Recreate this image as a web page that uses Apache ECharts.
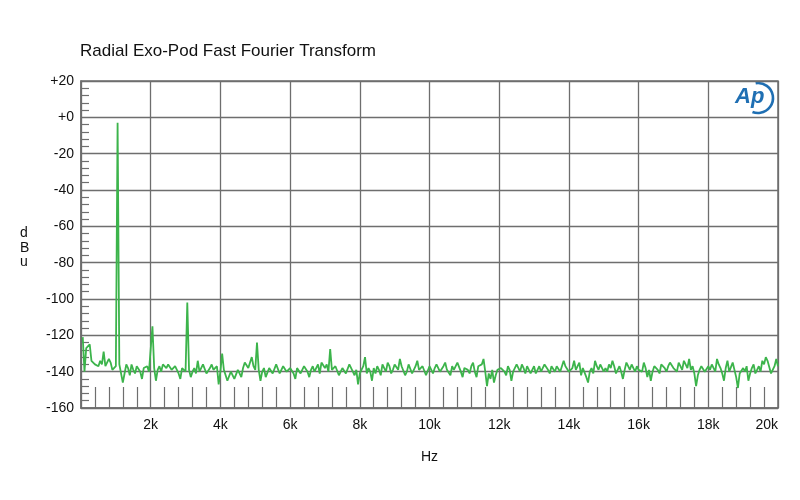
<!DOCTYPE html>
<html>
<head>
<meta charset="utf-8">
<title>Radial Exo-Pod FFT</title>
<script src="https://cdn.jsdelivr.net/npm/echarts@6/dist/echarts.min.js"></script>
<style>
  html, body { margin: 0; padding: 0; background: #fff; }
  #chart { width: 800px; height: 500px; }
</style>
</head>
<body>
<div id="chart"></div>
<script>
// FFT bins, 50 Hz apart: 50, 100, 150 ... 20000 Hz
const binStart = 50
const binStep = 50

// level in dBu for each bin, one row per kHz
const levels = [
  -121, -140, -127, -126, -125, -134, -133, -136, -135, -137, -134, -136, -129, -137, -136, -133, -135, -139, -138, -137,
  -3, -136, -137, -146, -141, -136, -138, -142, -136, -139, -141, -137, -138, -140, -144, -138, -139, -137, -140, -141,
  -115, -138, -145, -139, -137, -140, -136, -137, -138, -136, -137, -139, -140, -137, -138, -141, -144, -138, -139, -140,
  -102, -139, -143, -140, -138, -141, -134, -140, -139, -136, -137, -141, -141, -138, -136, -139, -140, -137, -147, -140,
  -130, -139, -142, -145, -144, -140, -141, -144, -143, -139, -141, -143, -138, -135, -136, -138, -135, -132, -137, -139,
  -124, -139, -145, -140, -138, -143, -142, -138, -137, -141, -140, -136, -137, -141, -139, -137, -138, -140, -139, -138,
  -139, -141, -144, -138, -137, -141, -140, -137, -138, -140, -143, -139, -137, -140, -139, -136, -141, -135, -135, -138,
  -136, -140, -127.5, -139, -140, -137, -137, -142, -141, -138, -138, -141, -140, -136, -137, -140, -142, -139, -147, -141,
  -140, -137, -132, -141, -138, -140, -145, -138, -141, -137, -139, -142, -136, -138, -140, -135, -137, -141, -139, -136,
  -136, -139, -133, -137, -138, -142, -140, -136, -137, -141, -139, -137, -134, -139, -140, -137, -138, -142, -141, -137,
  -137, -141, -138, -136, -136, -140, -139, -137, -135, -139, -140, -142, -137, -139, -138, -135, -136, -140, -143, -138,
  -137, -139, -141, -137, -135, -140, -143, -137, -138, -136, -133, -140, -148, -141, -144, -139, -146, -142, -139, -140,
  -138, -137, -140, -142, -137, -139, -145, -140, -139, -136, -137, -140, -136, -138, -141, -137, -138, -141, -140, -137,
  -141, -139, -137, -140, -139, -136, -135, -139, -141, -137, -138, -140, -137, -136, -140, -141, -134, -137, -136, -140,
  -140, -138, -134, -139, -137, -135, -142, -138, -139, -143, -146, -140, -138, -141, -134, -137, -139, -136, -137, -140,
  -138, -140, -136, -138, -134, -137, -141, -139, -137, -140, -144, -139, -135, -137, -139, -136, -138, -140, -137, -139,
  -138, -140, -135, -138, -143, -139, -145, -140, -137, -136, -139, -141, -136, -137, -138, -140, -137, -135, -134, -138,
  -137, -140, -135, -137, -139, -134, -136, -138, -133, -139, -137, -141, -148, -142, -139, -137, -138, -140, -140, -137,
  -139, -136, -137, -140, -133, -136, -138, -141, -145, -138, -134, -140, -140, -135, -136, -143, -149, -141, -142, -138,
  -140, -137, -145, -141, -138, -136, -141, -139, -137, -140, -134, -136, -132, -134, -135, -141, -140, -137, -133, -137
]

const yTicks = { min: -160, max: 20, step: 20 }
const xTicks = { min: 0, max: 20000, step: 2000 }

const seriesData = levels.map((v, i) => [binStart + i * binStep, v])

const chart = echarts.init(document.getElementById('chart'))

const axisFont = {
  color: '#111',
  fontFamily: 'Liberation Sans, Arial, sans-serif',
  fontSize: 14
}
const gridColor = '#6e6e6e'

chart.setOption({
  backgroundColor: '#fff',
  animation: false,
  title: {
    text: 'Radial Exo-Pod Fast Fourier Transform',
    left: 75,
    top: 38,
    textStyle: {
      color: '#111',
      fontFamily: 'Liberation Sans, Arial, sans-serif',
      fontSize: 17,
      fontWeight: 'normal'
    }
  },
  grid: {
    left: 81,
    right: 22,
    top: 81,
    bottom: 92,
    show: true,
    borderColor: gridColor,
    borderWidth: 1.5
  },
  xAxis: {
    type: 'value',
    min: xTicks.min,
    max: xTicks.max,
    interval: xTicks.step,
    name: 'Hz',
    nameLocation: 'middle',
    nameGap: 42,
    nameTextStyle: axisFont,
    axisLine: { onZero: false, lineStyle: { color: gridColor, width: 1.5 } },
    axisTick: { show: false, inside: true },
    minorTick: { show: true, splitNumber: 5, length: 21, lineStyle: { color: gridColor, width: 1.2 } },
    splitLine: { lineStyle: { color: gridColor, width: 1.3 } },
    axisLabel: Object.assign({}, axisFont, {
      margin: 10,
      alignMaxLabel: 'right',
      formatter: v => (v === 0 ? '' : v / 1000 + 'k')
    })
  },
  yAxis: {
    type: 'value',
    min: yTicks.min,
    max: yTicks.max,
    interval: yTicks.step,
    axisLine: { show: true, onZero: false, lineStyle: { color: gridColor, width: 1.5 } },
    axisTick: { show: false, inside: true },
    minorTick: { show: true, splitNumber: 5, length: 8, lineStyle: { color: gridColor, width: 1.2 } },
    splitLine: { lineStyle: { color: gridColor, width: 1.3 } },
    axisLabel: Object.assign({}, axisFont, {
      margin: 7,
      formatter: v => (v >= 0 ? '+' + v : String(v))
    })
  },
  graphic: [
    {
      type: 'text',
      left: 20,
      top: 226,
      style: {
        text: 'd\nB\nu',
        fill: '#111',
        font: '14px Liberation Sans, Arial, sans-serif',
        lineHeight: 14.5,
        align: 'center'
      }
    },
    {
      type: 'text',
      left: 735,
      top: 86,
      style: {
        text: 'Ap',
        fill: '#1f6fb3',
        font: 'italic bold 22px Liberation Sans, Arial, sans-serif'
      }
    },
    {
      type: 'arc',
      shape: { cx: 758, cy: 98, r: 15, startAngle: -Math.PI * 0.55, endAngle: Math.PI * 0.62, clockwise: true },
      style: { stroke: '#1f6fb3', lineWidth: 2.6, fill: null }
    }
  ],
  series: [
    {
      type: 'line',
      data: seriesData,
      showSymbol: false,
      lineStyle: { color: '#3cb44b', width: 1.8 },
      clip: true
    }
  ]
})
</script>
</body>
</html>
